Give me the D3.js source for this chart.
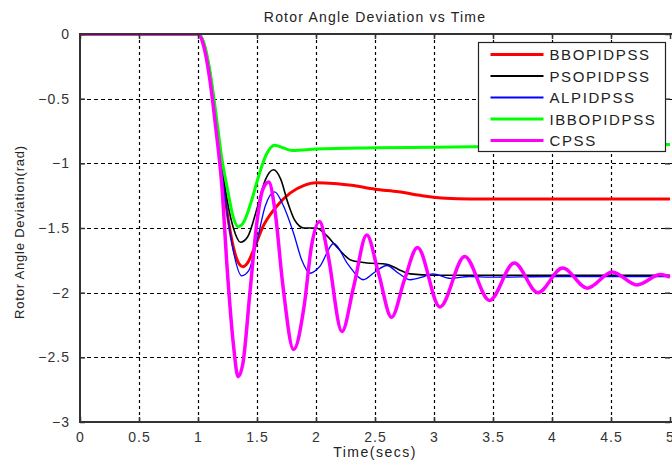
<!DOCTYPE html>
<html>
<head>
<meta charset="utf-8">
<script src="https://cdn.jsdelivr.net/npm/d3@7"></script>
<style>
  body { margin: 0; background: #fff; }
  svg { font-family: Arial, "Liberation Sans", sans-serif; }
</style>
</head>
<body>
<script>
// values: [time (s), deviation (rad)]
const bboPidPss = [[0,0],[1,0],[1.05,-0.08],[1.1,-0.3],[1.15,-0.65],[1.2,-1.05],[1.25,-1.4],[1.3,-1.65],[1.35,-1.78],[1.38,-1.8],[1.42,-1.77],[1.48,-1.65],[1.55,-1.49],[1.65,-1.35],[1.78,-1.23],[1.9,-1.17],[2.0,-1.15],[2.15,-1.155],[2.3,-1.17],[2.5,-1.2],[2.7,-1.22],[2.9,-1.25],[3.1,-1.27],[3.3,-1.275],[4,-1.275],[5,-1.275]];
const psoPidPss = [[0,0],[1,0],[1.05,-0.08],[1.1,-0.3],[1.15,-0.65],[1.2,-1.0],[1.25,-1.3],[1.3,-1.5],[1.36,-1.61],[1.42,-1.57],[1.5,-1.35],[1.57,-1.13],[1.64,-1.05],[1.7,-1.12],[1.76,-1.3],[1.82,-1.44],[1.9,-1.5],[2.0,-1.5],[2.08,-1.55],[2.18,-1.65],[2.3,-1.75],[2.43,-1.77],[2.6,-1.78],[2.7,-1.82],[2.8,-1.855],[3.0,-1.865],[4,-1.865],[5,-1.865]];
const alPidPss = [[0,0],[1,0],[1.05,-0.08],[1.1,-0.3],[1.15,-0.66],[1.2,-1.05],[1.25,-1.4],[1.3,-1.68],[1.37,-1.87],[1.43,-1.83],[1.5,-1.6],[1.57,-1.33],[1.65,-1.22],[1.72,-1.32],[1.81,-1.54],[1.88,-1.75],[1.95,-1.85],[2.03,-1.8],[2.15,-1.62],[2.27,-1.78],[2.4,-1.9],[2.5,-1.84],[2.6,-1.79],[2.7,-1.85],[2.8,-1.9],[2.9,-1.88],[2.99,-1.855],[3.14,-1.89],[3.3,-1.875],[3.5,-1.88],[4,-1.875],[5,-1.875]];
const ibboPidPss = [[0,0],[1,0],[1.05,-0.07],[1.1,-0.28],[1.15,-0.6],[1.2,-0.95],[1.25,-1.2],[1.3,-1.42],[1.34,-1.49],[1.39,-1.45],[1.45,-1.3],[1.52,-1.08],[1.58,-0.93],[1.65,-0.86],[1.72,-0.88],[1.8,-0.9],[2.0,-0.89],[2.5,-0.88],[3,-0.875],[4,-0.865],[5,-0.855]];
const cpss = [[0,0],[1,0],[1.05,-0.1],[1.1,-0.35],[1.15,-0.72],[1.2,-1.15],[1.25,-1.85],[1.3,-2.4],[1.34,-2.65],[1.38,-2.55],[1.44,-2.0],[1.5,-1.45],[1.55,-1.2],[1.6,-1.145],[1.65,-1.35],[1.72,-1.95],[1.81,-2.44],[1.9,-2.1],[1.96,-1.65],[2.03,-1.45],[2.1,-1.7],[2.22,-2.3],[2.32,-1.95],[2.43,-1.555],[2.53,-1.85],[2.64,-2.19],[2.75,-1.9],[2.86,-1.65],[3.05,-2.11],[3.26,-1.72],[3.47,-2.06],[3.68,-1.77],[3.88,-2.0],[4.09,-1.81],[4.3,-1.965],[4.51,-1.84],[4.72,-1.94],[4.92,-1.86],[5.0,-1.88]];

const seriesNames = ['BBOPIDPSS', 'PSOPIDPSS', 'ALPIDPSS', 'IBBOPIDPSS', 'CPSS'];
const seriesData = [bboPidPss, psoPidPss, alPidPss, ibboPidPss, cpss];
const seriesColors = ['#ff0000', '#000000', '#0000ff', '#00ff00', '#ff00ff'];
const seriesWidths = [3, 1.6, 1.3, 3, 3.5];

const xTicks = [0, 0.5, 1, 1.5, 2, 2.5, 3, 3.5, 4, 4.5, 5];
const yTicks = [0, -0.5, -1, -1.5, -2, -2.5, -3];

const width = 672, height = 461;
const margin = { top: 34, right: 2, bottom: 39, left: 80 };

const svg = d3.select('body').append('svg')
    .attr('width', width)
    .attr('height', height);

const x = d3.scaleLinear().domain([0, 5]).range([margin.left, 670]);
const y = d3.scaleLinear().domain([-3, 0]).range([height - margin.bottom, margin.top]);

// snap to pixel centres so 1px lines stay crisp
const px = v => Math.round(v) + 0.5;
const plotRight = width + 5;

svg.append('clipPath').attr('id', 'clip')
    .append('rect')
    .attr('x', margin.left).attr('y', margin.top)
    .attr('width', plotRight - margin.left)
    .attr('height', y(-3) - y(0));

// grid
const grid = svg.append('g');
grid.selectAll('line.v').data(xTicks.filter(t => t > 0 && t < 5)).enter()
    .append('line')
    .attr('x1', d => px(x(d))).attr('x2', d => px(x(d)))
    .attr('y1', y(0)).attr('y2', y(-3))
    .attr('stroke', '#000').attr('stroke-width', 1.2)
    .attr('stroke-dasharray', '3,3');
grid.selectAll('line.h').data(yTicks.filter(t => t < 0 && t > -3)).enter()
    .append('line')
    .attr('x1', x(0)).attr('x2', plotRight)
    .attr('y1', d => px(y(d))).attr('y2', d => px(y(d)))
    .attr('stroke', '#000').attr('stroke-width', 1.2)
    .attr('stroke-dasharray', '4,3');

// curves
const line = d3.line()
    .x(d => x(d[0]))
    .y(d => y(d[1]))
    .curve(d3.curveMonotoneX);

svg.append('g').attr('clip-path', 'url(#clip)')
    .selectAll('path').data(seriesData).enter()
    .append('path')
    .attr('fill', 'none')
    .attr('stroke', (d, i) => seriesColors[i])
    .attr('stroke-width', (d, i) => seriesWidths[i])
    .attr('stroke-linejoin', 'round')
    .attr('d', line);

// axes box
const box = svg.append('g').attr('stroke', '#333').attr('stroke-width', 2);
box.append('line').attr('x1', x(0)).attr('x2', plotRight).attr('y1', y(0)).attr('y2', y(0));
box.append('line').attr('x1', x(0)).attr('x2', plotRight).attr('y1', y(-3)).attr('y2', y(-3));
box.append('line').attr('x1', x(0)).attr('x2', x(0)).attr('y1', y(0) - 1).attr('y2', y(-3) + 1);

// inward ticks on all sides
const xAxisBottom = d3.axisBottom(x).tickValues(xTicks).tickSizeInner(-5).tickSizeOuter(0)
    .tickPadding(10).tickFormat(d3.format('~g'));
const gxb = svg.append('g').attr('transform', `translate(0,${y(-3)})`).call(xAxisBottom);
gxb.select('.domain').remove();

const xAxisTop = d3.axisTop(x).tickValues(xTicks).tickSizeInner(-5).tickSizeOuter(0).tickFormat('');
const gxt = svg.append('g').attr('transform', `translate(0,${y(0)})`).call(xAxisTop);
gxt.select('.domain').remove();

const yAxisLeft = d3.axisLeft(y).tickValues(yTicks).tickSizeInner(-5).tickSizeOuter(0)
    .tickPadding(10).tickFormat(d3.format('~g'));
const gyl = svg.append('g').attr('transform', `translate(${x(0)},0)`).call(yAxisLeft);
gyl.select('.domain').remove();

const yAxisRight = d3.axisRight(y).tickValues(yTicks).tickSizeInner(-5).tickSizeOuter(0).tickFormat('');
const gyr = svg.append('g').attr('transform', `translate(${x(5)},0)`).call(yAxisRight);
gyr.select('.domain').remove();

svg.selectAll('.tick line').attr('stroke', '#333').attr('stroke-width', 1.5);
svg.selectAll('.tick text')
    .attr('fill', '#333')
    .style('font-size', '14px')
    .style('letter-spacing', '1px');

// titles
svg.append('text')
    .attr('x', x(2.5)).attr('y', 22)
    .attr('text-anchor', 'middle')
    .attr('fill', '#222')
    .style('font-size', '14px')
    .style('letter-spacing', '1.2px')
    .text('Rotor Angle Deviation vs Time');

svg.append('text')
    .attr('x', x(2.5)).attr('y', 457)
    .attr('text-anchor', 'middle')
    .attr('fill', '#222')
    .style('font-size', '14px')
    .style('letter-spacing', '1.5px')
    .text('Time(secs)');

svg.append('text')
    .attr('transform', `translate(24,${(y(0) + y(-3)) / 2 + 4}) rotate(-90)`)
    .attr('text-anchor', 'middle')
    .attr('fill', '#222')
    .style('font-size', '13px')
    .style('letter-spacing', '0.8px')
    .text('Rotor Angle Deviation(rad)');

// legend
const legend = svg.append('g').attr('transform', 'translate(478.5,42.5)');
legend.append('rect')
    .attr('width', 187).attr('height', 109)
    .attr('fill', '#fff').attr('stroke', '#222').attr('stroke-width', 1.2);

const items = legend.selectAll('g.item').data(seriesNames).enter()
    .append('g')
    .attr('transform', (d, i) => `translate(0,${12 + i * 21.5})`);
items.append('line')
    .attr('x1', 12).attr('x2', 65)
    .attr('stroke', (d, i) => seriesColors[i])
    .attr('stroke-width', (d, i) => i === 1 || i === 2 ? 2 : 3);
items.append('text')
    .attr('x', 71).attr('y', 5.5)
    .attr('fill', '#222')
    .style('font-size', '15px')
    .style('letter-spacing', '1.6px')
    .text(d => d);
</script>
</body>
</html>
